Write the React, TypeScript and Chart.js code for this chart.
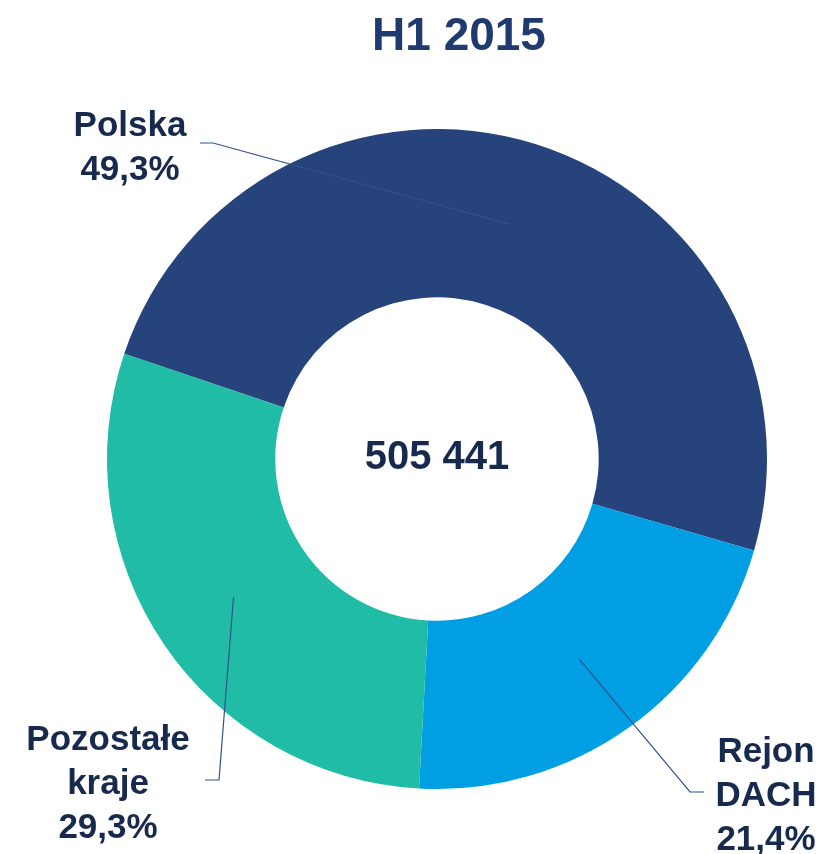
import React, { useEffect, useRef } from "react";
import { Chart, registerables } from "chart.js";

Chart.register(...registerables);

const titleText = "H1 2015";
const centerText = "505 441";
const categories = ["Polska", "Rejon DACH", "Pozostałe kraje"];
const shares = [49.3, 21.4, 29.3];
const labelLines = [["Polska", "49,3%"], ["Rejon", "DACH", "21,4%"], ["Pozostałe", "kraje", "29,3%"]];
const colors = ["#27437c", "#009fe3", "#21bca6"];

const FONT = "bold 35px 'Liberation Sans', Arial, sans-serif";
const TEXT_COLOR = "#172a4e";
const LINE_COLOR = "#34508e";

// label anchor config (layout only): text center x, first baseline, elbow path
const labelLayout = [
  { x: 130, y: 136, elbow: [[213, 143], [200, 143]] },
  { x: 766, y: 762, elbow: [[690, 792], [704, 792]] },
  { x: 108, y: 750, elbow: [[219, 780], [205, 780]] },
];

const overlayPlugin = {
  id: "overlay",
  afterDraw(chart: any) {
    const ctx = chart.ctx;
    const meta = chart.getDatasetMeta(0);
    ctx.save();
    // title
    ctx.fillStyle = "#1f3a6e";
    ctx.font = "bold 46px 'Liberation Sans', Arial, sans-serif";
    ctx.textAlign = "center";
    ctx.textBaseline = "alphabetic";
    ctx.fillText(titleText, 459, 50);
    // center
    const arc0 = meta.data[0];
    ctx.fillStyle = TEXT_COLOR;
    ctx.font = "bold 40px 'Liberation Sans', Arial, sans-serif";
    ctx.fillText(centerText, arc0.x, 469);
    // labels
    meta.data.forEach((arc: any, i: number) => {
      const p = arc.getCenterPoint();
      const lay = labelLayout[i];
      ctx.strokeStyle = LINE_COLOR;
      ctx.lineWidth = 1.2;
      ctx.beginPath();
      ctx.moveTo(p.x, p.y);
      lay.elbow.forEach((pt) => ctx.lineTo(pt[0], pt[1]));
      ctx.stroke();
      ctx.fillStyle = TEXT_COLOR;
      ctx.font = FONT;
      ctx.textAlign = "center";
      labelLines[i].forEach((t, j) => ctx.fillText(t, lay.x, lay.y + j * 44));
    });
    ctx.restore();
  },
};

export default function App() {
  const ref = useRef<HTMLCanvasElement>(null);
  useEffect(() => {
    if (!ref.current) return;
    const chart = new Chart(ref.current, {
      type: "doughnut",
      data: {
        labels: categories,
        datasets: [
          {
            data: shares,
            backgroundColor: colors,
            borderWidth: 0,
          },
        ],
      },
      options: {
        animation: false,
        responsive: false,
        rotation: -71.4,
        cutout: "49%",
        layout: { padding: { left: 107, right: 56, top: 129, bottom: 65 } },
        plugins: {
          legend: { display: false },
          title: { display: false },
          tooltip: { enabled: false },
        },
      },
      plugins: [overlayPlugin],
    });
    return () => chart.destroy();
  }, []);
  return (
    <div style={{ position: "absolute", left: 0, top: 0, width: 823, height: 854, background: "#fff" }}>
      <canvas ref={ref} width={823} height={854} style={{ width: 823, height: 854 }} />
    </div>
  );
}
